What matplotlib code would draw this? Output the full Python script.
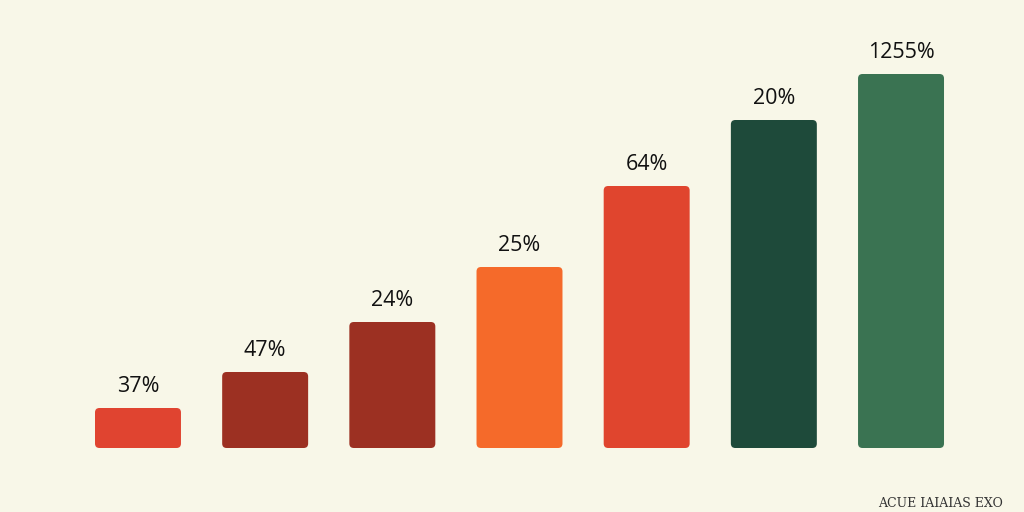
import matplotlib
matplotlib.use("Agg")
import matplotlib.pyplot as plt
from matplotlib.patches import FancyBboxPatch

labels = ["37%", "47%", "24%", "25%", "64%", "20%", "1255%"]
heights = [40, 76, 126, 181, 262, 328, 374]
colors = ["#E04430", "#9C3022", "#9C3022", "#F56A2A", "#E0452E", "#1E4A3A", "#3A7352"]
bg = "#F8F7E8"

fig = plt.figure(figsize=(10.24, 5.12), dpi=100, facecolor=bg)
ax = fig.add_axes([0, 0, 1, 1])
ax.set_facecolor(bg)
ax.set_xlim(-1.085, 6.967)
ax.set_ylim(-64, 448)
ax.axis("off")

x = list(range(len(heights)))
bars = ax.bar(x, heights, width=0.676, color=colors)

# swap plain bars for rounded ones
px_per_x = 1024 / (6.967 + 1.085)
for b, c in zip(bars, colors):
    b.set_visible(False)
    p = FancyBboxPatch((b.get_x(), b.get_y()), b.get_width(), b.get_height(),
                       boxstyle="round,pad=0,rounding_size=0.035",
                       mutation_aspect=px_per_x, facecolor=c, edgecolor="none")
    ax.add_patch(p)

for xi, h, lab in zip(x, heights, labels):
    ax.text(xi, h + 11, lab, ha="center", va="bottom", fontsize=15.5,
            family="Open Sans", color="#111111")

fig.text(0.918, 0.004, "ACUE IAIAIAS EXO", ha="center", va="bottom",
         fontsize=9, family="DejaVu Serif", color="#333333")

fig.savefig("out.png", dpi=100, facecolor=bg)
